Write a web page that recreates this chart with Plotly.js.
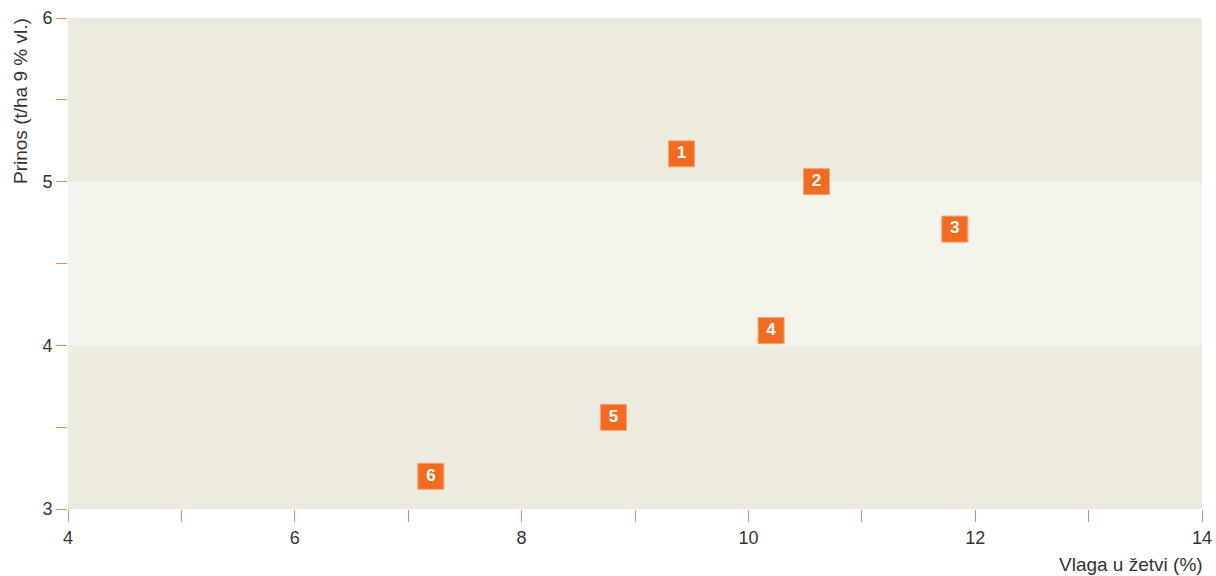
<!DOCTYPE html>
<html>
<head>
<meta charset="utf-8">
<script src="https://cdn.plot.ly/plotly-3.0.1.min.js"></script>
<style>html,body{margin:0;padding:0;background:#fff;}#chart{width:1216px;height:576px;}</style>
</head>
<body>
<div id="chart"></div>
<script>
const moisture = [9.41, 10.6, 11.82, 10.2, 8.81, 7.2];
const yieldT = [5.17, 5.0, 4.71, 4.09, 3.56, 3.2];
const labels = ["1", "2", "3", "4", "5", "6"];
const bandLows = [3, 4, 5];
const bandHighs = [4, 5, 6];
const bandColors = ["#edeadf", "#f4f3ec", "#edeadf"];
const xTicks = [4, 6, 8, 10, 12, 14];
const yTicks = [3, 4, 5, 6];

const font = "Liberation Sans, Arial, Helvetica, sans-serif";
const tickOrange = "#f4874f";

const shapes = bandLows.map((lo, i) => ({
  type: "rect", xref: "paper", yref: "y", x0: 0, x1: 1, y0: lo, y1: bandHighs[i],
  fillcolor: bandColors[i], line: {width: 0}, layer: "below"
}));

const trace = {
  x: moisture, y: yieldT, text: labels, type: "scatter", mode: "markers+text",
  marker: {symbol: "square", size: 26, color: "#f26b21", line: {color: "#f7a274", width: 1}},
  textposition: "middle center",
  textfont: {color: "#ffffff", size: 17, family: font, weight: "bold"},
  hoverinfo: "skip", cliponaxis: false
};

const layout = {
  width: 1216, height: 576,
  margin: {l: 68, r: 14, t: 18, b: 67},
  paper_bgcolor: "#ffffff", plot_bgcolor: "#ffffff",
  showlegend: false,
  font: {family: font, color: "#333333", size: 18},
  shapes: shapes,
  xaxis: {
    range: [4, 14], tickvals: xTicks, ticktext: xTicks.map(String),
    showgrid: false, zeroline: false, showline: false,
    ticks: "outside", ticklen: 12, tickwidth: 1, tickcolor: tickOrange,
    tickfont: {size: 18, color: "#333333"},
    minor: {dtick: 1, tick0: 0, ticks: "outside", ticklen: 12, tickwidth: 1, tickcolor: tickOrange, showgrid: false}
  },
  yaxis: {
    range: [3, 6], tickvals: yTicks, ticktext: yTicks.map(String),
    showgrid: false, zeroline: false, showline: false,
    ticks: "outside", ticklen: 11, tickwidth: 1, tickcolor: tickOrange,
    tickfont: {size: 18, color: "#333333"},
    minor: {dtick: 0.5, tick0: 0, ticks: "outside", ticklen: 11, tickwidth: 1, tickcolor: tickOrange, showgrid: false}
  },
  annotations: [
    {text: "Vlaga u žetvi (%)", xref: "paper", yref: "paper", x: 1.0, y: 0, yshift: -55,
     xanchor: "right", yanchor: "middle", showarrow: false, xshift: 3,
     font: {size: 19, color: "#333333", family: font}},
    {text: "Prinos (t/ha 9 % vl.)", xref: "paper", yref: "paper", x: 0, xshift: -48, y: 1, yshift: 2,
     xanchor: "center", yanchor: "top", textangle: -90, showarrow: false,
     font: {size: 19, color: "#333333", family: font}}
  ]
};

Plotly.newPlot("chart", [trace], layout, {displayModeBar: false, staticPlot: true});
</script>
</body>
</html>
